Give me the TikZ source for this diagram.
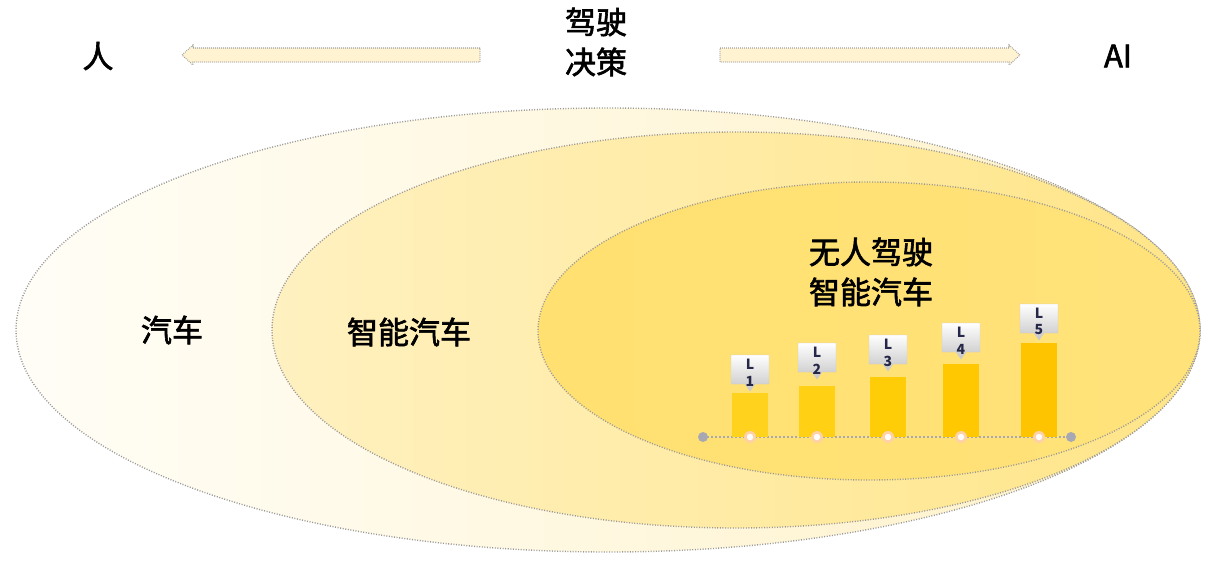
\documentclass[tikz,border=0pt]{standalone}
\usepackage{fontspec}
\setmainfont{Noto Sans CJK SC}
\newfontfamily\labelfont{Noto Sans CJK SC}[FakeBold=2]
\usetikzlibrary{positioning}

\definecolor{creamfill}{HTML}{FFF3D2}
\definecolor{outerL}{HTML}{FFFDF6}
\definecolor{outerR}{HTML}{FFF2C8}
\definecolor{midL}{HTML}{FFF1C0}
\definecolor{midR}{HTML}{FFE588}
\definecolor{innerL}{HTML}{FFE070}
\definecolor{innerR}{HTML}{FFE27A}
\definecolor{tagtext}{HTML}{252848}
\definecolor{dotgray}{HTML}{A8A8B4}

\tikzset{
  ring/.style={draw=gray!80, dash pattern=on 1pt off 1.6pt, line width=1.4pt},
  bigtext/.style={font=\labelfont\fontsize{31}{40}\selectfont, align=center, inner sep=0pt},
  blockarrow/.style={draw=gray!75, dash pattern=on 0.8pt off 1.2pt, line width=1.1pt, fill=creamfill},
  tagbox/.style={draw=gray!40, line width=0.4pt, top color=white, bottom color=gray!45},
  tagtext/.style={font=\fontsize{14}{14}\bfseries\selectfont, text=tagtext, inner sep=0pt}
}

\begin{document}
\begin{tikzpicture}[x=1pt, y=-1pt]
\useasboundingbox (0,0) rectangle (1216,562);

% rings
\draw[ring, left color=outerL, right color=outerR] (608,330) ellipse [x radius=592, y radius=222];
\draw[ring, left color=midL, right color=midR] (736,330) ellipse [x radius=464, y radius=198];
\draw[ring, left color=innerL, right color=innerR] (869,331) ellipse [x radius=331, y radius=149];

% labels
\node[bigtext] (car)    at (172,330) {汽车};
\node[bigtext] (smart)  at (409,332) {智能汽车};
\node[bigtext] (driver) at (871,272) {无人驾驶\\智能汽车};

\node[bigtext] (decide) at (596,42) {驾驶\\决策};
\node[bigtext] (human)  at (98,56)  {人};
\node[bigtext] (ai)     at (1118,56) {AI};

% arrows
\draw[blockarrow] (480,48) -- (193,48) -- (193,45) -- (182,55) -- (193,65)
  -- (193,62) -- (480,62) -- cycle;
\draw[blockarrow] (720,48) -- (1009,48) -- (1009,45) -- (1020,55) -- (1009,65)
  -- (1009,62) -- (720,62) -- cycle;

% levels
\coordinate (axisL) at (703,437);
\coordinate (axisR) at (1071,437);
\draw[dotgray, dotted, line width=2pt] (axisL) -- (axisR);
\fill[dotgray] (axisL) circle (5);
\fill[dotgray] (axisR) circle (5);

\foreach \i/\x/\top/\tag/\col in {1/750/393/355/FFD21E, 2/817/386/343/FFD014,
    3/888/377/335/FFCC08, 4/961/364/323/FFC800, 5/1039/343/304/FFC400}{
  \definecolor{barcol}{HTML}{\col}
  \fill[barcol] (\x-18,\top) rectangle (\x+18,437);
  \draw[tagbox] (\x-19,\tag) -- (\x+19,\tag) -- (\x+19,\tag+29) -- (\x+5,\tag+29)
    -- (\x,\tag+36) -- (\x-5,\tag+29) -- (\x-19,\tag+29) -- cycle;
  \node[tagtext] (tagL\i) at (\x,\tag+9) {L};
  \node[tagtext] (tagN\i) at (\x,\tag+26) {\i};
  \fill[orange!35] (\x,437) circle (6);
  \fill[white] (\x,437) circle (3.2);
}
\end{tikzpicture}
\end{document}
